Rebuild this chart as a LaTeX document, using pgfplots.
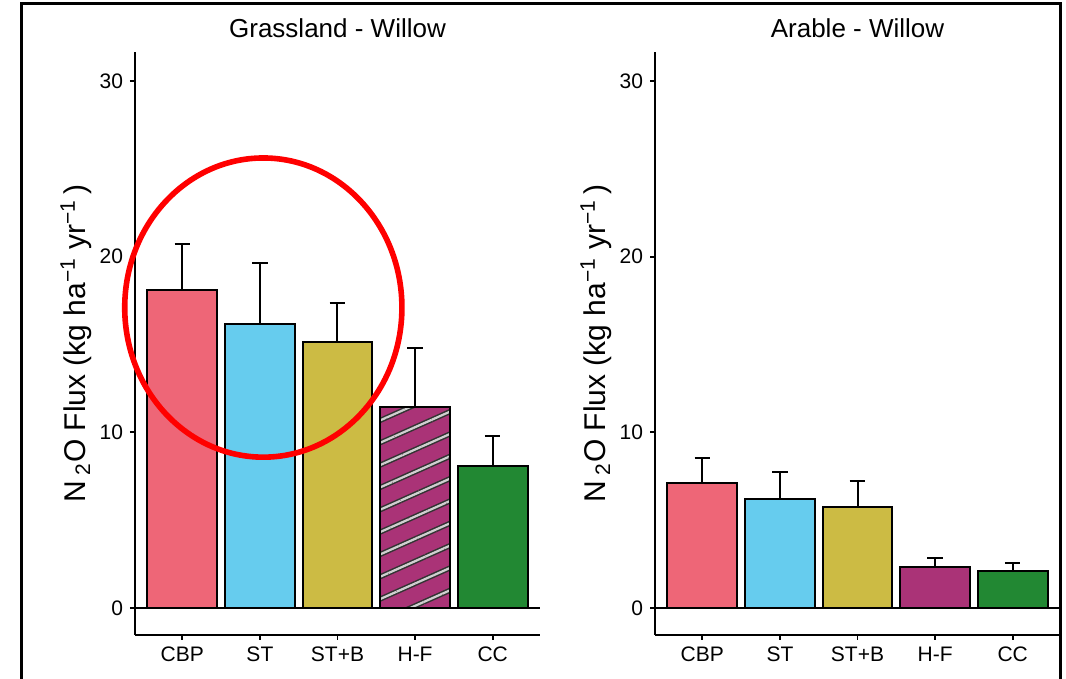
\documentclass[border=0pt]{standalone}
\usepackage{fontspec}
\setmainfont{Liberation Sans}
\usepackage{pgfplots}
\pgfplotsset{compat=1.18}
\usetikzlibrary{patterns.meta}
\definecolor{cbp}{HTML}{EE6677}
\definecolor{st}{HTML}{66CCEE}
\definecolor{stb}{HTML}{CCBB44}
\definecolor{hf}{HTML}{AA3377}
\definecolor{cc}{HTML}{228833}
\definecolor{hatchdark}{HTML}{333333}
\definecolor{hatchlight}{HTML}{D0D0D0}
\pgfplotsset{
  panel/.style={
    scale only axis, width=202.5pt, height=291.5pt,
    anchor=south west, clip=false,
    xmin=-0.61, xmax=4.61, ymin=-1.54, ymax=31.65,
    axis lines=left, axis line style={-, line width=0.9pt, black},
    ybar, bar width=0.9,
    xtick={0,1,2,3,4}, xticklabels={CBP,ST,ST+B,H-F,CC},
    ytick={0,10,20,30},
    tick align=outside, major tick length=2.5pt,
    tick style={line width=0.9pt, black},
    tick label style={font=\fontsize{10.5}{12}\selectfont},
    /pgf/number format/assume math mode=true,
    ylabel={N\,\textsubscript{2}O Flux (kg ha\textsuperscript{−1} yr\textsuperscript{−1}\,)},
    ylabel style={font=\fontsize{15}{18}\selectfont, at={(axis description cs:-0.1457,0.5)}, anchor=center},
    title style={at={(0.5,1)}, anchor=center, yshift=6pt, font=\fontsize{13}{15}\selectfont},
  },
  mybar/.style={draw=black, line width=1pt, bar shift=0pt,
    error bars/.cd, y dir=plus, y explicit,
    error bar style={line width=1pt, black},
    error mark options={rotate=90, mark size=3.9pt, line width=1pt, black}},
}
\begin{document}
\begin{tikzpicture}
\useasboundingbox (0,0) rectangle (533pt,339.5pt);
\draw[line width=1.5pt] (10.5pt,-5pt) -- (10.5pt,337.5pt) -- (530.25pt,337.5pt) -- (530.25pt,-5pt);
% Left panel
\begin{axis}[panel, at={(67.5pt,22pt)}, title={Grassland - Willow}]
\addplot[fill=cbp, mybar] coordinates {(0,18.09) +- (0,2.63)};
\addplot[fill=st, mybar] coordinates {(1,16.15) +- (0,3.51)};
\addplot[fill=stb, mybar] coordinates {(2,15.14) +- (0,2.24)};
\addplot[fill=hf, draw=none, bar shift=0pt,
  postaction={pattern={Lines[angle=24,distance=10.2pt,line width=2.6pt]}, pattern color=hatchdark},
  postaction={pattern={Lines[angle=24,distance=10.2pt,line width=1.1pt]}, pattern color=hatchlight}]
  coordinates {(3,11.42)};
\addplot[fill=none, mybar] coordinates {(3,11.42) +- (0,3.36)};
\addplot[fill=cc, mybar] coordinates {(4,8.08) +- (0,1.71)};
\draw[line width=0.9pt] (axis cs:-0.61,0) -- (axis cs:4.61,0);
\draw[red, line width=2.8pt] (axis cs:1.044,17.1) ellipse [x radius=69.3pt, y radius=74.8pt];
\end{axis}
% Right panel
\begin{axis}[panel, at={(327.5pt,22pt)}, title={Arable - Willow}]
\addplot[fill=cbp, mybar] coordinates {(0,7.13) +- (0,1.39)};
\addplot[fill=st, mybar] coordinates {(1,6.19) +- (0,1.55)};
\addplot[fill=stb, mybar] coordinates {(2,5.73) +- (0,1.50)};
\addplot[fill=hf, mybar] coordinates {(3,2.33) +- (0,0.50)};
\addplot[fill=cc, mybar] coordinates {(4,2.11) +- (0,0.47)};
\draw[line width=0.9pt] (axis cs:-0.61,0) -- (axis cs:4.61,0);
\end{axis}
\end{tikzpicture}
\end{document}
